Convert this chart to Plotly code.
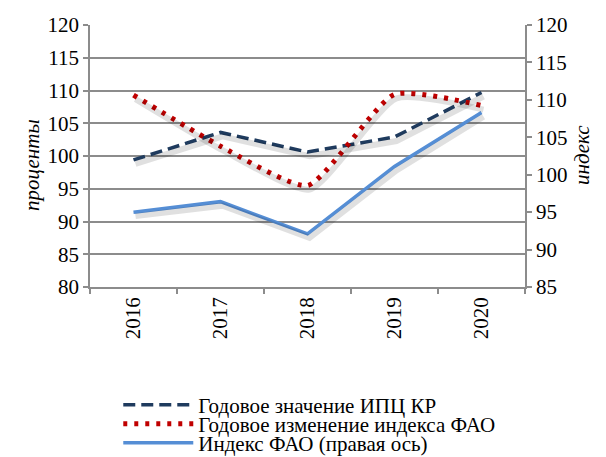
import plotly.graph_objects as go

years = ["2016", "2017", "2018", "2019", "2020"]
cpi_kr = [99.4, 103.6, 100.6, 102.9, 109.7]
fao_change = [109.3, 101.5, 95.5, 109.4, 107.7]
fao_index = [95.0, 96.4, 92.1, 101.1, 108.3]

left_ticks = [80, 85, 90, 95, 100, 105, 110, 115, 120]
right_ticks = [85, 90, 95, 100, 105, 110, 115, 120]

names = ["Годовое значение ИПЦ КР", "Годовое изменение индекса ФАО", "Индекс ФАО (правая ось)"]
colors = ["#1F3B5E", "#C00000", "#558ED5"]

FONT = "'Liberation Serif', 'Times New Roman', Times, serif"
L_RANGE = [80, 120]
R_RANGE = [85, 120]
PLOT_H = 262
PLOT_W = 435
PX_L = PLOT_H / 40.0
PX_R = PLOT_H / 35.0
CAT_W = PLOT_W / 5.0
SH_DX, SH_DY = 2, 4
SMOOTH = 0.55
OFF = 8  # page body margin

# target positions in window pixels
PLOT_LEFT, PLOT_TOP = 90, 25
PLOT_BOTTOM = PLOT_TOP + PLOT_H


def px_x(x):
    return (x - PLOT_LEFT) / PLOT_W


def px_y(y):
    return (PLOT_BOTTOM - y) / PLOT_H


fig = go.Figure()

# shadows
sh = dict(color="rgba(0,0,0,0.12)", width=6)
fig.add_trace(go.Scatter(x=years, y=cpi_kr, mode="lines", line=sh, xaxis="x2", yaxis="y3",
                         showlegend=False, hoverinfo="skip"))
fig.add_trace(go.Scatter(x=years, y=fao_change, mode="lines", line=dict(sh, shape="spline", smoothing=SMOOTH),
                         xaxis="x2", yaxis="y3", showlegend=False, hoverinfo="skip"))
fig.add_trace(go.Scatter(x=years, y=fao_index, mode="lines", line=sh, xaxis="x2", yaxis="y4",
                         showlegend=False, hoverinfo="skip"))

fig.add_trace(go.Scatter(x=years, y=cpi_kr, mode="lines", name=names[0],
                         line=dict(color=colors[0], width=3.5, dash="12px,6px"), legend="legend"))
fig.add_trace(go.Scatter(x=years, y=fao_change, mode="lines", name=names[1],
                         line=dict(color=colors[1], width=5, dash="4px,7px", shape="spline", smoothing=SMOOTH),
                         legend="legend2"))
fig.add_trace(go.Scatter(x=years, y=fao_index, mode="lines", name=names[2], yaxis="y2",
                         line=dict(color=colors[2], width=3.5), legend="legend3"))

axis_font = dict(family=FONT, size=21, color="black")
grid_col = "#8C8C8C"

leg_common = dict(font=dict(family=FONT, size=21, color="black"), itemwidth=70,
                  bgcolor="rgba(0,0,0,0)", xanchor="left", yanchor="middle", x=0.065,
                  tracegroupgap=0, borderwidth=0)

fig.update_layout(
    width=606 - OFF, height=457 - OFF,
    margin=dict(l=PLOT_LEFT - OFF, r=606 - PLOT_LEFT - PLOT_W, t=PLOT_TOP - OFF,
                b=457 - PLOT_BOTTOM, autoexpand=False),
    paper_bgcolor="white", plot_bgcolor="white",
    font=dict(family=FONT, color="black"),
    xaxis=dict(type="category", range=[-0.5, 4.5], tickson="boundaries", ticks="outside",
               ticklen=5, tickcolor=grid_col, tickwidth=1.5, tickangle=-90,
               tickfont=axis_font, showgrid=False, showline=True, linecolor=grid_col,
               linewidth=1.5, zeroline=False, mirror=False, automargin=False),
    xaxis2=dict(type="category", overlaying="x", visible=False,
                range=[-0.5 - SH_DX / CAT_W, 4.5 - SH_DX / CAT_W]),
    yaxis=dict(range=L_RANGE, tickvals=left_ticks, ticks="outside", ticklen=5,
               tickcolor=grid_col, tickwidth=1.5, tickfont=axis_font, showgrid=True,
               gridcolor=grid_col, gridwidth=1.5, showline=True, linecolor=grid_col,
               linewidth=1.5, zeroline=False, automargin=False),
    yaxis2=dict(range=R_RANGE, tickvals=right_ticks, overlaying="y", side="right",
                ticks="outside", ticklen=5, tickcolor=grid_col, tickwidth=1.5,
                tickfont=axis_font, showgrid=False, showline=True, linecolor=grid_col,
                linewidth=1.5, zeroline=False, automargin=False),
    yaxis3=dict(overlaying="y", visible=False,
                range=[L_RANGE[0] + SH_DY / PX_L, L_RANGE[1] + SH_DY / PX_L]),
    yaxis4=dict(overlaying="y", visible=False,
                range=[R_RANGE[0] + SH_DY / PX_R, R_RANGE[1] + SH_DY / PX_R]),
    legend=dict(leg_common, y=px_y(405)),
    legend2=dict(leg_common, y=px_y(424)),
    legend3=dict(leg_common, y=px_y(443)),
    annotations=[
        dict(text="<i>проценты</i>", textangle=-90, xref="paper", yref="paper",
             x=px_x(18), y=px_y(165), showarrow=False, font=dict(family=FONT, size=21)),
        dict(text="<i>индекс</i>", textangle=-90, xref="paper", yref="paper",
             x=px_x(596), y=px_y(155), showarrow=False, font=dict(family=FONT, size=21)),
    ],
)

fig.write_html("out.html")
